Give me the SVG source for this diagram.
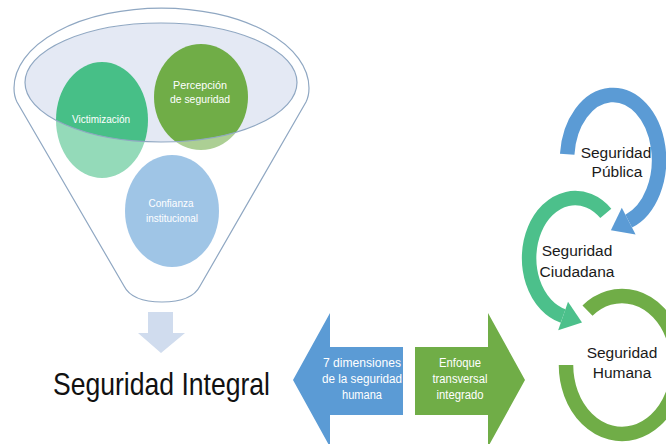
<svg xmlns="http://www.w3.org/2000/svg" width="666" height="444" viewBox="0 0 666 444">
<style>
.t{font-family:"Liberation Sans",Arial,sans-serif}
.w{fill:#ffffff;font-size:11.5px}
.k{fill:#1a1a1a;font-size:15.5px}
.a{fill:#ffffff;font-size:12.5px}
.line{fill:none;stroke:#8fa7c2;stroke-width:1.2}
.ring{fill:none;stroke-width:14.5;stroke-linecap:butt}
</style>
<rect width="666" height="444" fill="#ffffff"/>
<g id="funnel">
<path d="M14 88 A147.5 80 0 0 1 309 88 C309 95 308 98 306 102 L200 286 Q192 302 162 302 Q132 302 124 286 L17 102 C15 98 14 95 14 88 Z" fill="#ffffff"/>
<ellipse cx="161" cy="82.5" rx="136" ry="59.5" fill="#e4e9f4"/>
</g>
<g id="victimizacion">
<ellipse cx="102" cy="120" rx="46" ry="58" fill="#47bf87"/>
<text class="t w" x="101" y="123" text-anchor="middle" textLength="58" lengthAdjust="spacingAndGlyphs">Victimización</text>
</g>
<g id="percepcion">
<ellipse cx="201" cy="97" rx="47" ry="53" fill="#70ad47"/>
<text class="t w" x="200" y="89" text-anchor="middle" textLength="54" lengthAdjust="spacingAndGlyphs">Percepción</text>
<text class="t w" x="200" y="103" text-anchor="middle" textLength="60" lengthAdjust="spacingAndGlyphs">de seguridad</text>
</g>
<g id="confianza">
<ellipse cx="172" cy="211" rx="47" ry="56" fill="#5b9bd5"/>
<text class="t w" x="171" y="207" text-anchor="middle" textLength="45" lengthAdjust="spacingAndGlyphs">Confianza</text>
<text class="t w" x="172" y="222" text-anchor="middle" textLength="52" lengthAdjust="spacingAndGlyphs">institucional</text>
</g>
<g id="funnel-glass">
<path d="M14 88 A147.5 80 0 0 1 309 88 C309 95 308 98 306 102 L200 286 Q192 302 162 302 Q132 302 124 286 L17 102 C15 98 14 95 14 88 Z M25 82.5 A136 59.5 0 1 0 297 82.5 A136 59.5 0 1 0 25 82.5 Z" fill="#ffffff" fill-opacity="0.42" fill-rule="evenodd"/>
<path class="line" d="M14 88 A147.5 80 0 0 1 309 88 C309 95 308 98 306 102 L200 286 Q192 302 162 302 Q132 302 124 286 L17 102 C15 98 14 95 14 88 Z"/>
<ellipse class="line" cx="161" cy="82.5" rx="136" ry="59.5"/>
</g>
<g id="connectors">
<path d="M148 312 H173 V333 H185 L161 353 L138 333 H148 Z" fill="#d0dcee"/>
</g>
<g id="seguridad-integral">
<text class="t" x="53" y="395" font-size="32" fill="#111111" textLength="217" lengthAdjust="spacingAndGlyphs">Seguridad Integral</text>
</g>
<g id="dimensiones">
<path d="M293 380 L330 313 V347 H403 V415 H330 V447 Z" fill="#5b9bd5"/>
<text class="t a" x="362" y="367" text-anchor="middle" textLength="78" lengthAdjust="spacingAndGlyphs">7 dimensiones</text>
<text class="t a" x="362" y="383" text-anchor="middle" textLength="80" lengthAdjust="spacingAndGlyphs">de la seguridad</text>
<text class="t a" x="362" y="399" text-anchor="middle" textLength="40" lengthAdjust="spacingAndGlyphs">humana</text>
</g>
<g id="enfoque">
<path d="M415 347 H488 V313 L525 380 L488 447 V415 H415 Z" fill="#70ad47"/>
<text class="t a" x="460" y="367" text-anchor="middle" textLength="42" lengthAdjust="spacingAndGlyphs">Enfoque</text>
<text class="t a" x="460" y="383" text-anchor="middle" textLength="55" lengthAdjust="spacingAndGlyphs">transversal</text>
<text class="t a" x="460" y="399" text-anchor="middle" textLength="47" lengthAdjust="spacingAndGlyphs">integrado</text>
</g>
<g id="seguridad-humana">
<path class="ring" d="M587.5 310.6 A56 69 0 1 1 566 365" stroke="#70ad47"/>
<text class="t k" x="622" y="358" text-anchor="middle">Seguridad</text>
<text class="t k" x="622" y="378" text-anchor="middle">Humana</text>
</g>
<g id="seguridad-ciudadana">
<path class="ring" d="M605.8 213.4 A46 60 0 1 0 563.1 316" stroke="#4cc08b"/>
<path d="M558.2 330.2 L582 322.6 L568 301.8 Z" fill="#4cc08b"/>
<text class="t k" x="577" y="256" text-anchor="middle">Seguridad</text>
<text class="t k" x="577" y="277" text-anchor="middle">Ciudadana</text>
</g>
<g id="seguridad-publica">
<path class="ring" d="M567.2 154.3 A46 65 0 1 1 628.7 221.1" stroke="#5b9bd5"/>
<path d="M635.6 234.4 L610.9 230.2 L621.8 207.8 Z" fill="#5b9bd5"/>
<text class="t k" x="616" y="158" text-anchor="middle">Seguridad</text>
<text class="t k" x="617" y="177" text-anchor="middle">Pública</text>
</g>
</svg>
